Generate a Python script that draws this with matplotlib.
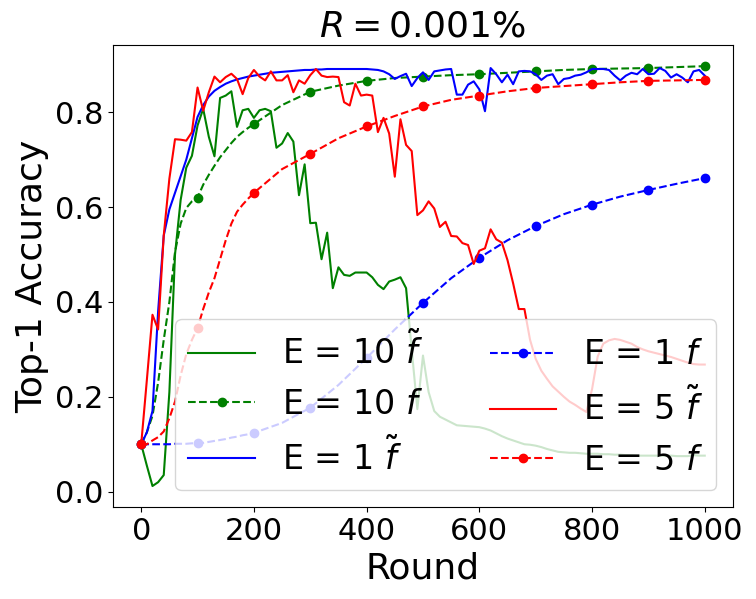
import numpy as np
import matplotlib.pyplot as plt

# Rounds for the solid (f tilde) runs, every 10 rounds
rounds = np.arange(0, 1001, 10)

# E = 10, f tilde
acc_e10_tilde = [
    0.100, 0.055, 0.012, 0.020, 0.035, 0.210, 0.500, 0.615, 0.683, 0.708,
    0.772, 0.807, 0.748, 0.707, 0.830, 0.835, 0.844, 0.769, 0.804, 0.807,
    0.788, 0.804, 0.807, 0.802, 0.725, 0.734, 0.756, 0.738, 0.625, 0.690,
    0.566, 0.567, 0.490, 0.546, 0.429, 0.473, 0.457, 0.455, 0.462, 0.462,
    0.462, 0.452, 0.436, 0.427, 0.443, 0.447, 0.452, 0.429, 0.300, 0.174,
    0.287, 0.210, 0.170, 0.158, 0.152, 0.146, 0.140, 0.139, 0.138, 0.137,
    0.136, 0.133, 0.129, 0.123, 0.117, 0.112, 0.108, 0.104, 0.100, 0.099,
    0.097, 0.094, 0.090, 0.087, 0.084, 0.083, 0.082, 0.082, 0.081, 0.080,
    0.080, 0.080, 0.079, 0.079, 0.078, 0.078, 0.077, 0.077, 0.076, 0.076,
    0.076, 0.076, 0.076, 0.076, 0.076, 0.075, 0.075, 0.075, 0.077, 0.076,
    0.076,
]

# E = 1, f tilde
acc_e1_tilde = [
    0.100, 0.125, 0.170, 0.380, 0.540, 0.595, 0.630, 0.665, 0.700, 0.745,
    0.790, 0.815, 0.833, 0.845, 0.853, 0.860, 0.865, 0.869, 0.872, 0.875,
    0.877, 0.879, 0.881, 0.883, 0.884, 0.885, 0.886, 0.887, 0.888, 0.889,
    0.889, 0.890, 0.890, 0.891, 0.891, 0.891, 0.891, 0.891, 0.891, 0.891,
    0.891, 0.890, 0.889, 0.886, 0.880, 0.870, 0.876, 0.881, 0.855, 0.872,
    0.884, 0.868, 0.886, 0.888, 0.890, 0.891, 0.837, 0.837, 0.858, 0.865,
    0.848, 0.802, 0.893, 0.880, 0.863, 0.879, 0.859, 0.886, 0.887, 0.886,
    0.880, 0.868, 0.877, 0.880, 0.859, 0.870, 0.872, 0.877, 0.879, 0.884,
    0.891, 0.891, 0.891, 0.889, 0.877, 0.867, 0.877, 0.883, 0.880, 0.891,
    0.880, 0.881, 0.893, 0.887, 0.873, 0.880, 0.873, 0.863, 0.886, 0.889,
    0.877,
]

# E = 5, f tilde
acc_e5_tilde = [
    0.100, 0.235, 0.373, 0.342, 0.540, 0.660, 0.743, 0.742, 0.740, 0.758,
    0.852, 0.803, 0.842, 0.875, 0.863, 0.874, 0.881, 0.870, 0.838, 0.872,
    0.889, 0.875, 0.867, 0.886, 0.867, 0.867, 0.878, 0.842, 0.867, 0.860,
    0.878, 0.891, 0.877, 0.874, 0.875, 0.874, 0.821, 0.814, 0.860, 0.835,
    0.837, 0.835, 0.758, 0.788, 0.755, 0.664, 0.785, 0.731, 0.718, 0.583,
    0.593, 0.612, 0.597, 0.558, 0.569, 0.539, 0.538, 0.524, 0.520, 0.480,
    0.508, 0.513, 0.553, 0.532, 0.525, 0.488, 0.439, 0.385, 0.385, 0.320,
    0.280, 0.255, 0.238, 0.222, 0.211, 0.200, 0.190, 0.183, 0.175, 0.168,
    0.216, 0.285, 0.312, 0.319, 0.322, 0.320, 0.316, 0.312, 0.305, 0.300,
    0.296, 0.293, 0.290, 0.287, 0.284, 0.280, 0.276, 0.272, 0.269, 0.268,
    0.268,
]

# Rounds for the dashed (f) runs
rounds_f = [0, 10, 20, 30, 40, 50, 60, 70, 80, 90, 100, 110, 120, 130, 140,
            150, 160, 170, 180, 190, 200, 250, 300, 350, 400, 450, 500, 550,
            600, 650, 700, 750, 800, 850, 900, 950, 1000]

acc_e10_f = [0.100, 0.125, 0.160, 0.230, 0.320, 0.400, 0.505, 0.565, 0.598,
             0.612, 0.620, 0.647, 0.668, 0.687, 0.705, 0.720, 0.735, 0.748,
             0.758, 0.767, 0.775, 0.815, 0.843, 0.856, 0.866, 0.872, 0.875,
             0.878, 0.880, 0.883, 0.886, 0.889, 0.891, 0.892, 0.893, 0.895,
             0.897]

acc_e1_f = [0.100, 0.100, 0.100, 0.100, 0.100, 0.100, 0.101, 0.101, 0.101,
            0.102, 0.102, 0.103, 0.105, 0.107, 0.109, 0.111, 0.114, 0.116,
            0.119, 0.121, 0.124, 0.145, 0.177, 0.225, 0.282, 0.342, 0.398,
            0.450, 0.493, 0.530, 0.560, 0.585, 0.605, 0.622, 0.636, 0.649,
            0.661]

acc_e5_f = [0.100, 0.100, 0.108, 0.115, 0.127, 0.155, 0.190, 0.245, 0.290,
            0.320, 0.345, 0.385, 0.420, 0.450, 0.490, 0.530, 0.565, 0.590,
            0.605, 0.618, 0.630, 0.680, 0.712, 0.745, 0.770, 0.792, 0.812,
            0.826, 0.835, 0.844, 0.851, 0.855, 0.859, 0.863, 0.866, 0.867,
            0.868]

marks = [i for i, r in enumerate(rounds_f) if r % 100 == 0]

fig = plt.figure(figsize=(7.56, 5.99), dpi=100)
ax = fig.add_axes([0.1495, 0.1536, 0.820, 0.771])

ax.plot(rounds, acc_e10_tilde, color='green', label='E = 10 $\\tilde{f}$')
ax.plot(rounds_f, acc_e10_f, '--', color='green', marker='o', markevery=marks,
        label='E = 10 $f$')
ax.plot(rounds, acc_e1_tilde, color='blue', label='E = 1 $\\tilde{f}$')
ax.plot(rounds_f, acc_e1_f, '--', color='blue', marker='o', markevery=marks,
        label='E = 1 $f$')
ax.plot(rounds, acc_e5_tilde, color='red', label='E = 5 $\\tilde{f}$')
ax.plot(rounds_f, acc_e5_f, '--', color='red', marker='o', markevery=marks,
        label='E = 5 $f$')

ax.set_xlabel('Round', fontsize=26)
ax.set_ylabel('Top-1 Accuracy', fontsize=26)
ax.set_title('$R = 0.001\\%$', fontsize=26)
ax.tick_params(labelsize=22)
ax.legend(ncol=2, fontsize=24, loc='lower right')

fig.savefig('out.png', dpi=100)
